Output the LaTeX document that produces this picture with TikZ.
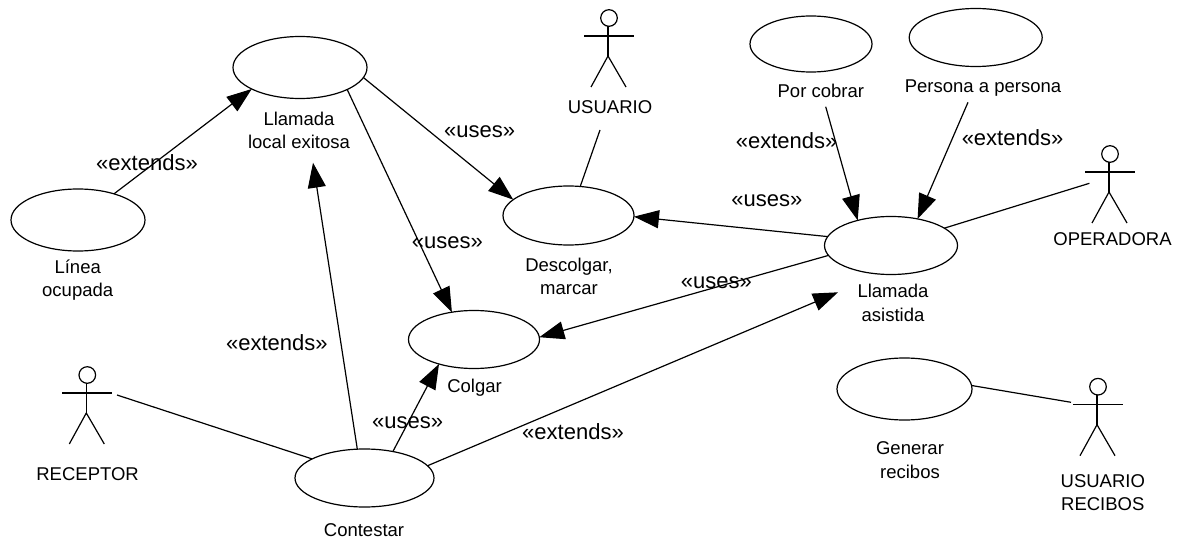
\documentclass[tikz,border=0pt]{standalone}
\usepackage{fontspec}
\setmainfont{Liberation Sans}
\usetikzlibrary{shapes.geometric,arrows.meta}
\tikzset{
  usecase/.style n args={2}{ellipse,draw=black,line width=1.2pt,fill=white,inner sep=0pt,outer sep=0pt,minimum width=#1pt,minimum height=#2pt},
  lbl/.style={inner sep=0pt,align=center,font=\fontsize{18.5}{23.5}\selectfont},
  stereo/.style={inner sep=0pt,font=\fontsize{22}{26}\selectfont},
  assoc/.style={draw=black,line width=1.2pt},
  dep/.style={assoc,-{Triangle[length=25pt,width=18pt]}},
  pics/actor/.style={code={
    \draw[line width=1.2pt] (0,0) circle[radius=8.3pt];
    \draw[line width=1.2pt] (-25,18) -- (25,18);
    \draw[line width=1.2pt] (-1,8) -- (-1,38);
    \draw[line width=1.2pt] (-18,69) -- (-1,38) -- (17,69);
  }}
}
\begin{document}
\begin{tikzpicture}[x=1pt,y=-1pt]
\useasboundingbox[fill=white] (0,0) rectangle (1177,540);
% use cases
\node[usecase={134}{62}] (A) at (300,67.5) {};
\node[usecase={134}{62}] (B) at (78,220) {};
\node[usecase={131}{59}] (C) at (568.5,215.5) {};
\node[usecase={122}{56}] (D) at (811,44) {};
\node[usecase={133}{58}] (E) at (975.7,37.5) {};
\node[usecase={133}{58}] (F) at (891,245.5) {};
\node[usecase={131}{58}] (G) at (474,339.5) {};
\node[usecase={139}{58}] (H) at (364.5,478) {};
\node[usecase={135}{62}] (I) at (904.5,389) {};
% actors
\pic (usuario) at (609,18) {actor};
\pic (operadora) at (1110,154) {actor};
\pic (receptor) at (87.3,375) {actor};
\pic (recibos) at (1098,386.7) {actor};
% free ends
\coordinate (aUsuario) at (600,130);
\coordinate (aOperadora) at (1089.4,183.3);
\coordinate (aReceptor) at (117,395);
\coordinate (aRecibos) at (1071,402.3);
\coordinate (tipLocal) at (313,162.7);
\coordinate (tipAsistida) at (838,292.3);
\coordinate (fromCobrar) at (825.7,106.7);
\coordinate (fromPersona) at (968,102.3);
% connectors
\draw[dep] (B.36.8) -- (A.204);
\draw[dep] (A.-9) -- (C.164.2);
\draw[dep] (A.-25.9) -- (G.129.8);
\draw[dep] (H.104) -- (tipLocal);
\draw[dep] (H.43.4) -- (G.215.6);
\draw[dep] (H.11.8) -- (tipAsistida);
\draw[dep] (F.189.5) -- (G.2.4);
\draw[dep] (F.172.8) -- (C.-1.3);
\draw[dep] (fromCobrar) -- (F.143.3);
\draw[dep] (fromPersona) -- (F.45.4);
\draw[assoc] (F.18.4) -- (aOperadora);
\draw[assoc] (I.3) -- (aRecibos);
\draw[assoc] (aReceptor) -- (H.160.5);
\draw[assoc] (aUsuario) -- (C.68.7);
% labels
\node[lbl] (tA) at (299,130.3) {Llamada\\local exitosa};
\node[lbl] (tB) at (77.7,280) {Línea\\ocupada};
\node[lbl] (tUsuario) at (610,106.7) {USUARIO};
\node[lbl] (tC) at (569,276.5) {Descolgar,\\marcar};
\node[lbl] (tD) at (820.8,91) {Por cobrar};
\node[lbl] (tE) at (983,87.7) {Persona a persona};
\node[lbl] (tOperadora) at (1112.5,239) {OPERADORA};
\node[lbl] (tF) at (893,303) {Llamada\\asistida};
\node[lbl] (tG) at (474.5,388) {Colgar};
\node[lbl] (tReceptor) at (87.6,474) {RECEPTOR};
\node[lbl] (tH) at (364,530) {Contestar};
\node[lbl] (tI) at (910,460) {Generar\\recibos};
\node[lbl] (tRecibos) at (1102.8,492.5) {USUARIO\\RECIBOS};
% stereotypes
\node[stereo] (s1) at (147,163) {«extends»};
\node[stereo] (s2) at (479.7,131.7) {«uses»};
\node[stereo] (s3) at (447.4,242.7) {«uses»};
\node[stereo] (s4) at (786.6,141) {«extends»};
\node[stereo] (s5) at (1012.5,138) {«extends»};
\node[stereo] (s6) at (766.8,201) {«uses»};
\node[stereo] (s7) at (716.4,282.7) {«uses»};
\node[stereo] (s8) at (276.9,342.3) {«extends»};
\node[stereo] (s9) at (407.6,422.7) {«uses»};
\node[stereo] (s10) at (573,431.7) {«extends»};
\end{tikzpicture}
\end{document}
